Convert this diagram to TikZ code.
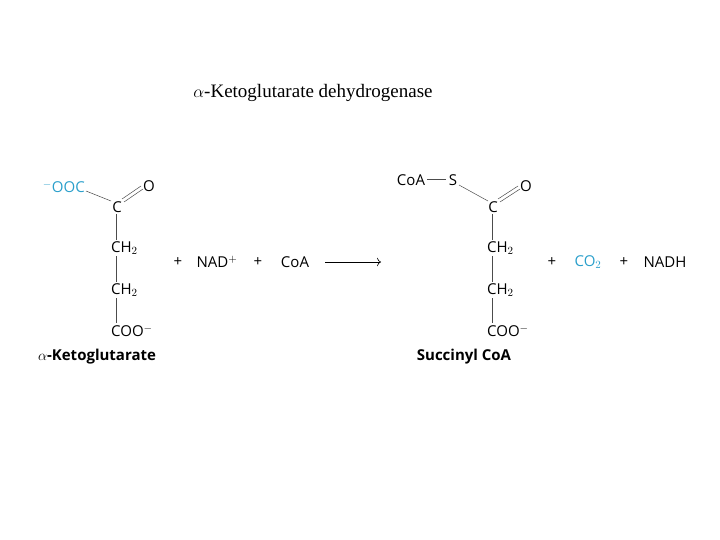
\documentclass[tikz,border=0pt]{standalone}
\usepackage{fontspec}
\usetikzlibrary{arrows.meta}
\setmainfont{Open Sans}
\newfontfamily\titlefont{Liberation Serif}
\definecolor{chblue}{HTML}{2A9FCB}
\begin{document}
\begin{tikzpicture}[x=1pt,y=-1pt,
  t/.style={inner sep=0pt,font=\fontsize{15}{18}\selectfont},
  lbl/.style={inner sep=0pt,font=\fontsize{15}{18}\selectfont\bfseries},
  bond/.style={line width=0.5pt,black!70},
  arr/.style={line width=0.6pt,-{To[length=4pt]}}]
\useasboundingbox (0,0) rectangle (720,540);
\node[inner sep=0pt,font=\titlefont\fontsize{19}{22}\selectfont] (title) at (313,93) {$\alpha$-Ketoglutarate dehydrogenase};
% left molecule
\node[t,text=chblue,anchor=east] (ooc) at (85,187) {$^{-}$OOC};
\node[t] (c1) at (117,207) {C};
\node[t] (o1) at (149,186) {O};
\node[t,anchor=west] (ch2a) at (111,248) {CH$_2$};
\node[t,anchor=west] (ch2b) at (111,290) {CH$_2$};
\node[t,anchor=west] (cooa) at (111,331) {COO$^{-}$};
\node[lbl] (akg) at (97,357) {$\alpha$-Ketoglutarate};
\draw[bond] (86,191) -- (111,201);
\draw[bond] (122,199) -- (141,186);
\draw[bond] (124,202) -- (143,189);
\draw[bond] (116,214) -- (116,240);
\draw[bond] (116,256) -- (116,282);
\draw[bond] (116,298) -- (116,323);
\node[t] (p1) at (178,262) {+};
\node[t] (nad) at (217,262) {NAD$^{+}$};
\node[t] (p2) at (258,262) {+};
\node[t] (coa) at (295,262) {CoA};
\coordinate (a1) at (325,262);
\coordinate (a2) at (381,262);
\draw[arr] (a1) -- (a2);
% right molecule
\node[t] (coas) at (411,180) {CoA};
\node[t] (s) at (453,180) {S};
\node[t] (c2) at (493,207) {C};
\node[t] (o2) at (526,186) {O};
\node[t,anchor=west] (ch2c) at (487,248) {CH$_2$};
\node[t,anchor=west] (ch2d) at (487,290) {CH$_2$};
\node[t,anchor=west] (coob) at (487,331) {COO$^{-}$};
\node[lbl] (sca) at (464,357) {Succinyl CoA};
\draw[bond] (coas.east) ++(2,-1) -- (446,179);
\draw[bond] (459,185) -- (488,201);
\draw[bond] (498,199) -- (518,186);
\draw[bond] (500,202) -- (520,189);
\draw[bond] (492,214) -- (492,240);
\draw[bond] (492,256) -- (492,282);
\draw[bond] (492,298) -- (492,323);
\node[t] (p3) at (552,262) {+};
\node[t,text=chblue] (co2) at (588,262) {CO$_2$};
\node[t] (p4) at (624,262) {+};
\node[t] (nadh) at (665,262) {NADH};
\end{tikzpicture}
\end{document}
